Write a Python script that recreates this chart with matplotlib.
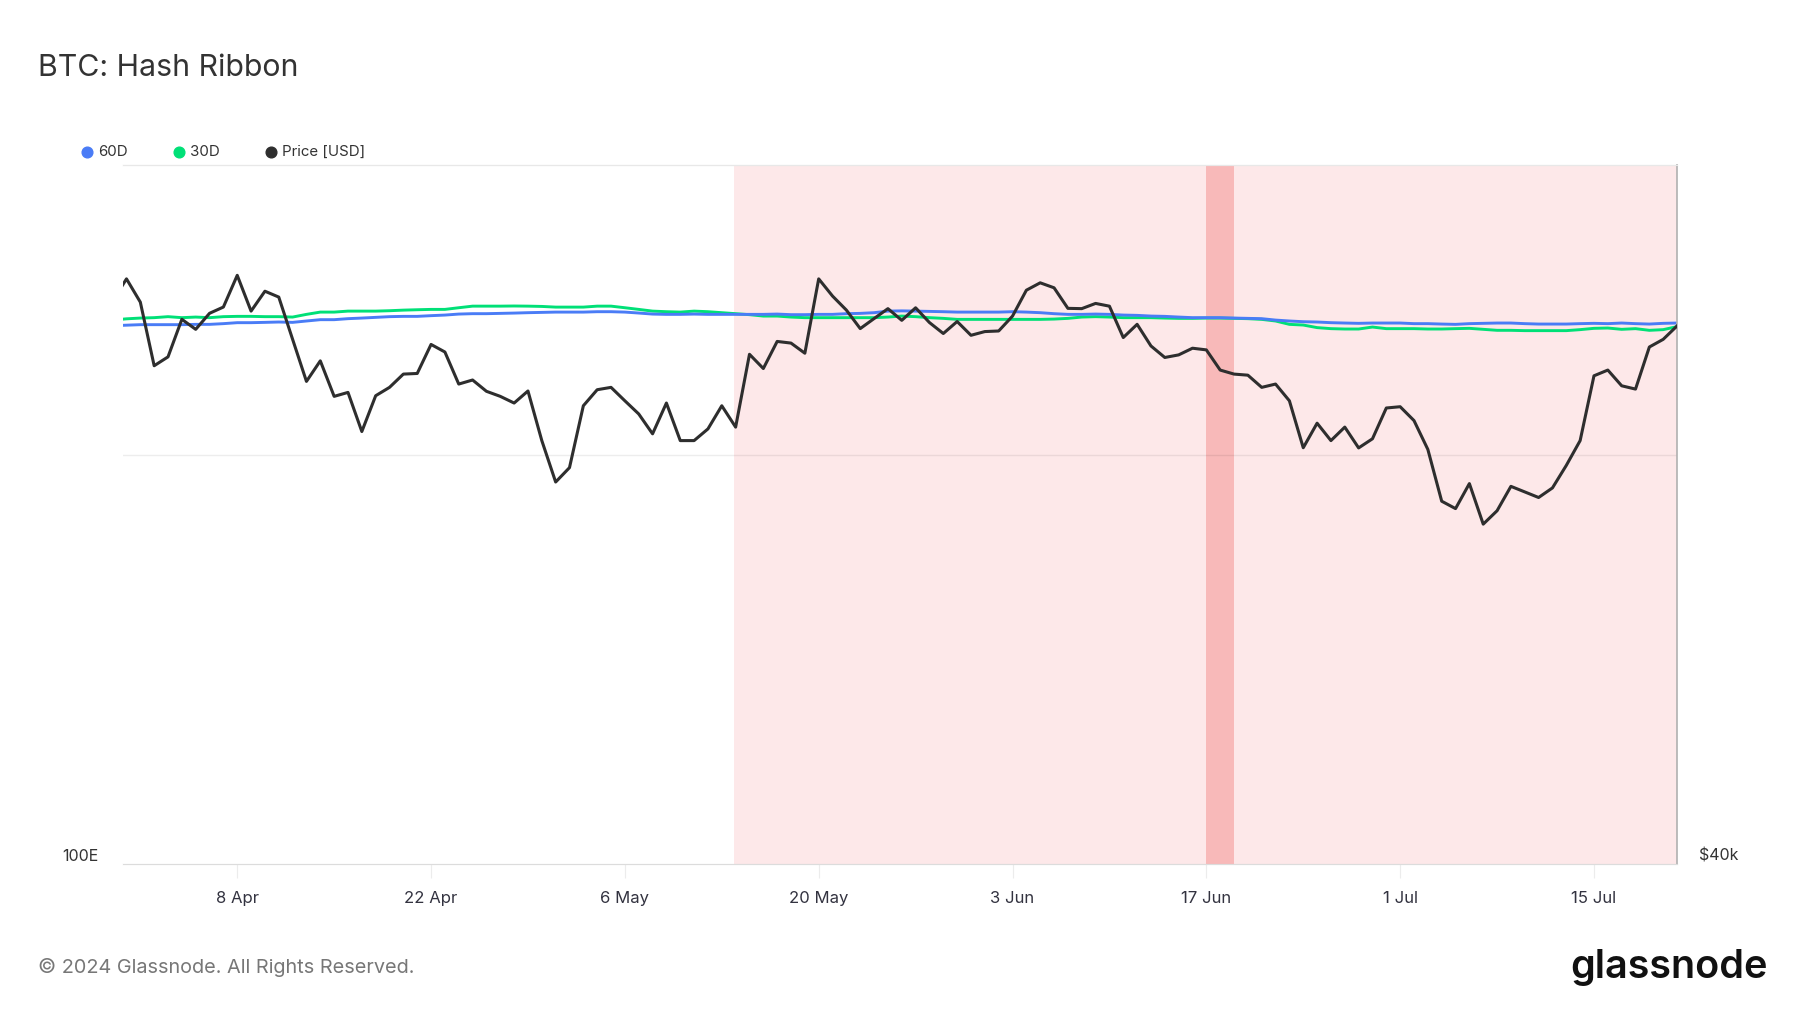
import matplotlib
matplotlib.use('Agg')
import matplotlib.pyplot as plt
import matplotlib.ticker as mticker
from matplotlib.lines import Line2D
import pandas as pd

plt.rcParams['font.family'] = ['Inter', 'DejaVu Sans']

# daily values, 30 Mar 2024 .. 21 Jul 2024
dates = pd.date_range('2024-03-30', '2024-07-21', freq='D')

price = [
    69900, 71460,
    # April
    69830, 65560, 66140, 68650, 67970, 69060, 69490, 71710, 69210, 70590,
    70180, 67300, 64550, 65880, 63600, 63850, 61420, 63640, 64170, 65020,
    65060, 66960, 66460, 64380, 64640, 63920, 63600, 63180, 63940, 60870,
    # May
    58420, 59260, 63010, 64020, 64170, 63320, 62500, 61280, 63180, 60870,
    60870, 61580, 63010, 61690, 66310, 65380, 67160, 67050, 66380, 71460,
    70250, 69280, 68020, 68700, 69380, 68580, 69440, 68430, 67690, 68500,
    67570,
    # June
    67820, 67860, 68870, 70660, 71180, 70830, 69400, 69380, 69740, 69550,
    67420, 68310, 66860, 66100, 66270, 66710, 66600, 65280, 65020, 64950,
    64170, 64380, 63320, 60440, 61930, 60870, 61690, 60430, 60980, 62870,
    # July
    62950, 62090, 60340, 57320, 56900, 58330, 56030, 56780, 58170, 57850,
    57530, 58080, 59390, 60870, 64910, 65280, 64270, 64060, 66790, 67300,
    68200,
]

hash_60d = [
    589.0, 590.0,
    591.0, 591.0, 591.0, 591.0, 591.6, 591.6, 593.0, 594.9, 594.9, 595.5,
    596.2, 595.5, 598.2, 600.8, 600.8, 602.8, 604.0, 605.4, 606.8, 607.4,
    607.4, 608.8, 610.0, 612.0, 612.8, 612.8, 613.4, 614.0, 614.8, 615.4,
    616.0, 616.0, 616.0, 616.8, 616.8, 616.0, 614.1, 612.0, 611.4, 611.4,
    612.0, 611.4, 611.4, 611.4, 611.4, 611.4, 612.0, 610.8, 610.8, 611.4,
    611.4, 612.8, 613.4, 614.8, 618.0, 618.5, 618.0, 617.4, 616.8, 616.0,
    616.0,
    616.0, 616.0, 616.8, 616.0, 614.8, 612.8, 611.4, 611.4, 612.0, 611.4,
    610.0, 609.4, 608.0, 607.4, 606.0, 604.8, 604.8, 604.8, 604.0, 603.4,
    602.8, 600.0, 598.2, 596.8, 596.2, 594.9, 594.2, 593.6, 594.2, 594.2,
    594.2, 593.0, 593.0, 592.2, 591.6, 593.0, 593.6, 594.2, 594.2, 593.0,
    592.2, 592.2, 592.2, 593.0, 593.6, 593.0, 594.2, 593.0, 592.2, 593.6,
    594.2,
]

hash_30d = [
    600.0, 602.5,
    604.0, 604.8, 606.8, 604.8, 606.0, 604.8, 606.8, 607.4, 607.4, 606.8,
    606.8, 606.0, 611.4, 616.0, 616.0, 618.0, 618.0, 618.0, 618.8, 620.0,
    620.8, 621.5, 621.5, 624.9, 628.2, 628.2, 628.2, 628.5, 628.2, 627.6,
    626.2, 626.2, 626.2, 628.2, 628.2, 624.9, 621.5, 618.0, 616.8, 616.0,
    618.0, 616.8, 614.8, 612.8, 610.8, 608.0, 608.0, 606.0, 604.8, 604.8,
    604.8, 604.8, 604.8, 604.8, 606.0, 608.0, 606.8, 604.8, 603.4, 601.4,
    601.4,
    601.4, 601.4, 601.4, 601.4, 601.4, 602.0, 603.4, 606.0, 606.8, 606.0,
    604.8, 604.8, 604.8, 604.0, 603.4, 603.4, 604.0, 604.0, 603.4, 602.8,
    601.4, 598.2, 591.6, 590.3, 585.3, 583.3, 582.6, 582.6, 586.4, 583.3,
    583.3, 583.3, 582.6, 582.6, 583.3, 583.9, 582.0, 580.1, 580.1, 579.5,
    579.5, 579.5, 579.5, 581.4, 583.9, 584.5, 582.0, 583.3, 580.1, 581.4,
    587.2,
]

capitulation = ('2024-05-13 21:00', '2024-07-21 06:00')
signal = ('2024-06-17', '2024-06-19')

tick_dates = pd.to_datetime(['2024-04-08', '2024-04-22', '2024-05-06', '2024-05-20',
                             '2024-06-03', '2024-06-17', '2024-07-01', '2024-07-15'])
tick_labels = ['8 Apr', '22 Apr', '6 May', '20 May', '3 Jun', '17 Jun', '1 Jul', '15 Jul']

fig = plt.figure(figsize=(18, 10.13), dpi=100)
ax = fig.add_axes([0.0686, 0.1471, 0.8632, 0.6900])
ax2 = ax.twinx()

ax.axvspan(pd.Timestamp(capitulation[0]), pd.Timestamp(capitulation[1]), color='#fde8e9', lw=0, zorder=0)
ax.axvspan(pd.Timestamp(signal[0]), pd.Timestamp(signal[1]), color='#f8b9b9', lw=0, zorder=0.5)

ax.plot(dates, hash_60d, color='#4a7cf6', lw=2.1, zorder=3)
ax.plot(dates, hash_30d, color='#00e077', lw=2.1, zorder=2)
ax2.plot(dates, price, color='#2e2e2e', lw=2.2, zorder=4)

ax.set_yscale('log')
ax.set_ylim(100, 1000)
ax2.set_yscale('log')
ax2.set_ylim(40000, 80000)
ax2.axhline(60000, color='black', alpha=0.07, lw=1, zorder=0)

ax.set_xlim(pd.Timestamp('2024-03-30 18:48'), pd.Timestamp('2024-07-21 00:20'))

ax.yaxis.set_major_locator(mticker.FixedLocator([100]))
ax.yaxis.set_minor_locator(mticker.NullLocator())
ax.set_yticklabels(['100E'])
ax2.yaxis.set_major_locator(mticker.FixedLocator([40000]))
ax2.yaxis.set_minor_locator(mticker.NullLocator())
ax2.set_yticklabels(['$40k'])
ax.tick_params(axis='y', length=0, pad=18, labelsize=11.5, labelcolor='#333333')
ax2.tick_params(axis='y', length=0, pad=16, labelsize=11.5, labelcolor='#333333')
for lbl in ax.get_yticklabels() + ax2.get_yticklabels():
    lbl.set_va('bottom')

ax.set_xticks(tick_dates)
ax.set_xticklabels(tick_labels)
ax.tick_params(axis='x', length=10, width=0.8, color='#ececec', pad=9.5,
               labelsize=12, labelcolor='#333340')

for a in (ax, ax2):
    a.spines['left'].set_visible(False)
    a.spines['top'].set_color('#e8e8e8')
    a.spines['bottom'].set_color('#dcdcdc')
    a.spines['right'].set_visible(False)
ax2.spines['right'].set_visible(True)
ax2.spines['right'].set_color('#b0b0b0')
ax2.spines['right'].set_linewidth(1.2)

# title and legend
fig.text(0.0213, 0.9253, 'BTC: Hash Ribbon', fontsize=21.8, color='#333333', va='baseline')
legend = [('60D', '#4a7cf6', 0.0482), ('30D', '#00e077', 0.0993), ('Price [USD]', '#2e2e2e', 0.1506)]
for name, col, xd in legend:
    fig.add_artist(Line2D([xd], [0.8503], marker='o', markersize=7.7, color=col, lw=0,
                          transform=fig.transFigure))
    fig.text(xd + 0.0063, 0.8503, name, fontsize=10.8, color='#333333', va='center')

fig.text(0.0213, 0.0447, '\u00a9 2024 Glassnode. All Rights Reserved.', fontsize=14.3,
         color='#777777', va='center')
fig.text(0.8722, 0.0343, 'glassnode', fontsize=28.5, color='#111111', fontweight='semibold',
         va='baseline')

fig.savefig('out.png', dpi=100, facecolor='white')
